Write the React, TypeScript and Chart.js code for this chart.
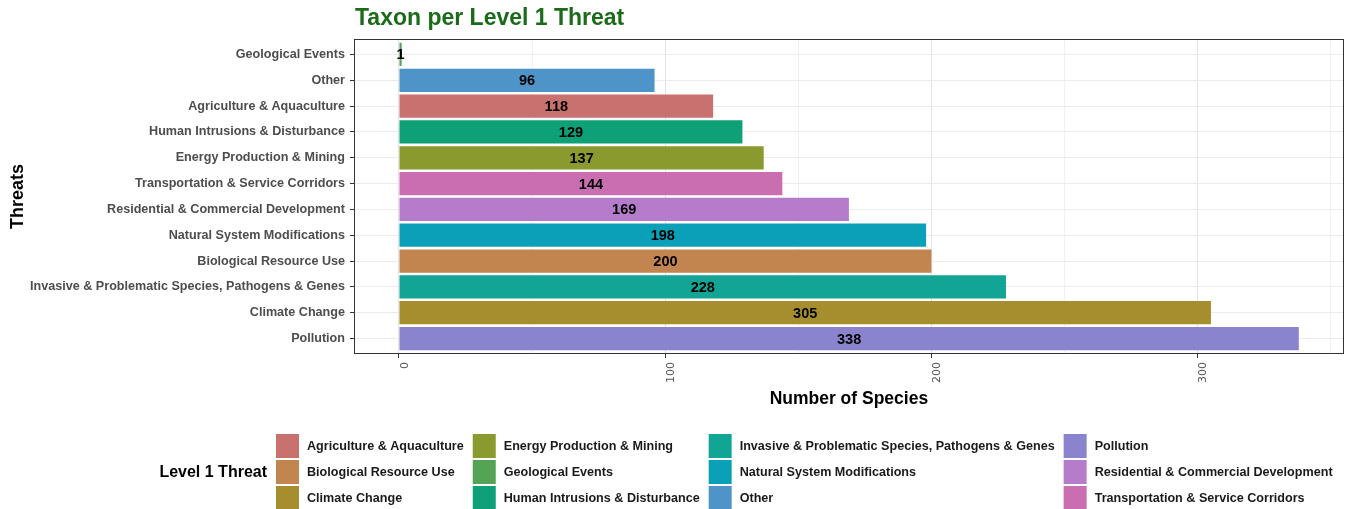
import React, { useEffect, useRef } from 'react';
import { Chart, registerables } from 'chart.js';

Chart.register(...registerables);

// ---- Data ----
const threats = [
  'Geological Events',
  'Other',
  'Agriculture & Aquaculture',
  'Human Intrusions & Disturbance',
  'Energy Production & Mining',
  'Transportation & Service Corridors',
  'Residential & Commercial Development',
  'Natural System Modifications',
  'Biological Resource Use',
  'Invasive & Problematic Species, Pathogens & Genes',
  'Climate Change',
  'Pollution',
];
const speciesCounts = [1, 96, 118, 129, 137, 144, 169, 198, 200, 228, 305, 338];

const threatColors: Record<string, string> = {
  'Agriculture & Aquaculture': '#C8716F',
  'Biological Resource Use': '#C2854F',
  'Climate Change': '#A68E2E',
  'Energy Production & Mining': '#8A9A2E',
  'Geological Events': '#55A456',
  'Human Intrusions & Disturbance': '#0EA077',
  'Invasive & Problematic Species, Pathogens & Genes': '#12A596',
  'Natural System Modifications': '#0AA0B8',
  'Other': '#4E94C8',
  'Pollution': '#8A84CF',
  'Residential & Commercial Development': '#B47CCA',
  'Transportation & Service Corridors': '#CA6EB2',
};

const legendOrder = [
  'Agriculture & Aquaculture',
  'Biological Resource Use',
  'Climate Change',
  'Energy Production & Mining',
  'Geological Events',
  'Human Intrusions & Disturbance',
  'Invasive & Problematic Species, Pathogens & Genes',
  'Natural System Modifications',
  'Other',
  'Pollution',
  'Residential & Commercial Development',
  'Transportation & Service Corridors',
];

const xTickValues = [0, 50, 100, 150, 200, 250, 300, 350];
const xMin = -16.9;
const xMax = 354.9;

const chartTitle = 'Taxon per Level 1 Threat';
const xAxisTitle = 'Number of Species';
const yAxisTitle = 'Threats';
const legendTitle = 'Level 1 Threat';

const FONT = '"Liberation Sans", Arial, Helvetica, sans-serif';

const decorPlugin = {
  id: 'decor',
  afterDatasetsDraw(chart: any) {
    const { ctx, chartArea } = chart;
    ctx.save();
    // panel border
    ctx.strokeStyle = '#333333';
    ctx.lineWidth = 1;
    ctx.strokeRect(
      Math.round(chartArea.left) + 0.5,
      Math.round(chartArea.top) + 0.5,
      Math.round(chartArea.right - chartArea.left) - 1,
      Math.round(chartArea.bottom - chartArea.top) - 1
    );
    // value labels
    const meta = chart.getDatasetMeta(0);
    ctx.fillStyle = '#000000';
    ctx.font = `bold 14.5px ${FONT}`;
    ctx.textAlign = 'center';
    ctx.textBaseline = 'middle';
    meta.data.forEach((el: any, i: number) => {
      const cx = (el.x + el.base) / 2;
      ctx.fillText(String(speciesCounts[i]), cx, el.y + 1);
    });
    ctx.restore();
  },
  afterDraw(chart: any) {
    const { ctx, chartArea } = chart;
    ctx.save();
    // title
    ctx.fillStyle = '#1B6B1B';
    ctx.font = `bold 23px ${FONT}`;
    ctx.textAlign = 'left';
    ctx.textBaseline = 'middle';
    ctx.fillText(chartTitle, chartArea.left + 1, 19);

    // x axis title
    ctx.fillStyle = '#000000';
    ctx.font = `bold 17.5px ${FONT}`;
    ctx.textAlign = 'center';
    ctx.fillText(xAxisTitle, (chartArea.left + chartArea.right) / 2, 399);

    // y axis title
    ctx.save();
    ctx.translate(18, (chartArea.top + chartArea.bottom) / 2);
    ctx.rotate(-Math.PI / 2);
    ctx.font = `bold 18px ${FONT}`;
    ctx.textAlign = 'center';
    ctx.textBaseline = 'middle';
    ctx.fillText(yAxisTitle, 0, 0);
    ctx.restore();

    // legend
    const rows = 3;
    const cols = Math.ceil(legendOrder.length / rows);
    const keyW = 23;
    const keyH = 24;
    const rowStep = 26;
    const keyTextGap = 8;
    const colGap = 9;
    const itemFont = `bold 12.6px ${FONT}`;
    ctx.font = itemFont;
    const colWidths: number[] = [];
    for (let c = 0; c < cols; c++) {
      let m = 0;
      for (let r = 0; r < rows; r++) {
        const name = legendOrder[c * rows + r];
        if (name) m = Math.max(m, ctx.measureText(name).width);
      }
      colWidths.push(m);
    }
    ctx.font = `bold 16px ${FONT}`;
    const titleW = ctx.measureText(legendTitle).width;
    const total =
      titleW + colGap + colWidths.reduce((a, w) => a + keyW + keyTextGap + w, 0) + colGap * (cols - 1);
    const startX = 746 - total / 2;
    const top = 434;
    ctx.fillStyle = '#000000';
    ctx.textAlign = 'left';
    ctx.textBaseline = 'middle';
    ctx.fillText(legendTitle, startX, top + rowStep + keyH / 2 + 1);
    let x = startX + titleW + colGap;
    ctx.font = itemFont;
    for (let c = 0; c < cols; c++) {
      for (let r = 0; r < rows; r++) {
        const name = legendOrder[c * rows + r];
        if (!name) continue;
        const y = top + r * rowStep;
        ctx.fillStyle = threatColors[name];
        ctx.fillRect(x, y, keyW, keyH);
        ctx.fillStyle = '#1A1A1A';
        ctx.fillText(name, x + keyW + keyTextGap, y + keyH / 2 + 1);
      }
      x += keyW + keyTextGap + colWidths[c] + colGap;
    }
    ctx.restore();
  },
};

export default function App() {
  const canvasRef = useRef<HTMLCanvasElement | null>(null);

  useEffect(() => {
    if (!canvasRef.current) return;
    const chart = new Chart(canvasRef.current, {
      type: 'bar',
      data: {
        datasets: [
          {
            data: speciesCounts.map((v, i) => ({ x: v, y: i })),
            backgroundColor: threats.map((t) => threatColors[t]),
            barPercentage: 0.9,
            categoryPercentage: 1.0,
            borderWidth: 0,
          },
        ],
      },
      options: {
        indexAxis: 'y',
        animation: false,
        responsive: true,
        maintainAspectRatio: false,
        layout: { padding: { left: 0, right: 4, top: 39, bottom: 125 } },
        plugins: {
          legend: { display: false },
          tooltip: { enabled: false },
          title: { display: false },
        },
        scales: {
          x: {
            type: 'linear',
            min: xMin,
            max: xMax,
            afterBuildTicks: (scale: any) => {
              scale.ticks = xTickValues.map((v) => ({ value: v }));
            },
            afterFit: (scale: any) => {
              scale.height = 30;
            },
            border: { display: false },
            grid: {
              offset: false,
              color: (c: any) => (c.tick && c.tick.value % 100 === 0 ? '#E3E3E3' : '#F1F1F1'),
              lineWidth: 1,
              tickColor: (c: any) => (c.tick && c.tick.value % 100 === 0 ? '#333333' : 'rgba(0,0,0,0)'),
              tickLength: 4,
            },
            ticks: {
              autoSkip: false,
              minRotation: 90,
              maxRotation: 90,
              padding: 4,
              labelOffset: 6,
              color: '#555555',
              font: { family: '"DejaVu Sans", sans-serif', size: 11 },
              callback: (v: any) => (Number(v) % 100 === 0 ? String(v) : ''),
            },
          },
          y: {
            type: 'linear',
            reverse: true,
            min: -0.6,
            max: threats.length - 1 + 0.6,
            offset: false,
            afterBuildTicks: (scale: any) => {
              scale.ticks = threats.map((_, i) => ({ value: i }));
            },
            afterFit: (scale: any) => {
              scale.width = 354;
            },
            border: { display: false },
            grid: {
              offset: false,
              color: '#EBEBEB',
              tickColor: '#333333',
              tickLength: 4,
            },
            ticks: {
              autoSkip: false,
              padding: 5,
              color: '#4D4D4D',
              font: { family: FONT, size: 12.6, weight: 'bold' },
              callback: (v: any) => threats[Math.round(Number(v))] ?? '',
            },
          },
        },
      },
      plugins: [decorPlugin],
    } as any);
    return () => chart.destroy();
  }, []);

  return (
    <div style={{ position: 'fixed', left: 0, top: 0, width: 1348, height: 509, background: '#ffffff' }}>
      <canvas ref={canvasRef} />
    </div>
  );
}
